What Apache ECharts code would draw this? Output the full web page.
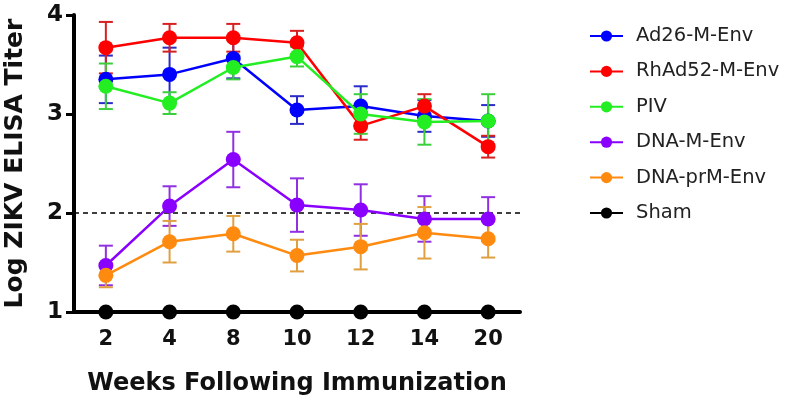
<!DOCTYPE html>
<html><head><meta charset="utf-8">
<script src="https://cdn.jsdelivr.net/npm/echarts@6/dist/echarts.min.js"></script>
<style>html,body{margin:0;padding:0;background:#fff}#c{width:800px;height:405px}</style>
</head><body><div id="c"></div>
<script>
const weeks = ['2','4','8','10','12','14','20'];
const seriesNames = ['Ad26-M-Env','RhAd52-M-Env','PIV','DNA-M-Env','DNA-prM-Env','Sham'];
const colors = ['#0000ff','#ff0000','#22ee22','#8a00ff','#ff8a10','#000000'];
const errColors = ['#2b2bc8','#d82020','#3ccf3c','#9030e0','#e0a040','#000000'];
const ad26 = [3.35, 3.40, 3.56, 3.04, 3.08, 2.98, 2.93];
const ad26Err = [0.24, 0.27, 0.20, 0.14, 0.20, 0.16, 0.16];
const rhad52 = [3.67, 3.77, 3.77, 3.72, 2.88, 3.08, 2.67];
const rhad52Err = [0.26, 0.14, 0.14, 0.12, 0.14, 0.12, 0.11];
const piv = [3.28, 3.11, 3.47, 3.58, 3.00, 2.92, 2.93];
const pivErr = [0.23, 0.11, 0.12, 0.10, 0.20, 0.23, 0.27];
const dnaM = [1.47, 2.07, 2.54, 2.08, 2.03, 1.94, 1.94];
const dnaMErr = [0.20, 0.20, 0.28, 0.27, 0.26, 0.23, 0.22];
const dnaPrM = [1.37, 1.71, 1.79, 1.57, 1.66, 1.80, 1.74];
const dnaPrMErr = [0.12, 0.21, 0.18, 0.16, 0.23, 0.26, 0.19];
const sham = [1, 1, 1, 1, 1, 1, 1];
const shamErr = [0, 0, 0, 0, 0, 0, 0];
const yTicks = [1, 2, 3, 4];
const threshold = 2;

const means = [ad26, rhad52, piv, dnaM, dnaPrM, sham];
const errs = [ad26Err, rhad52Err, pivErr, dnaMErr, dnaPrMErr, shamErr];

const chart = echarts.init(document.getElementById('c'));
const series = [];
means.forEach((m, si) => {
  if (si < 5) {
    series.push({
      type: 'custom',
      name: seriesNames[si] + ' err',
      z: 1,
      data: m.map((v, i) => [i, v - errs[si][i], v + errs[si][i]]),
      renderItem: function (params, api) {
        const lo = api.coord([api.value(0), api.value(1)]);
        const hi = api.coord([api.value(0), api.value(2)]);
        const w = 7;
        const st = { stroke: errColors[si], lineWidth: 2 };
        return { type: 'group', children: [
          { type: 'line', shape: { x1: lo[0], y1: lo[1], x2: hi[0], y2: hi[1] }, style: st },
          { type: 'line', shape: { x1: hi[0] - w, y1: hi[1], x2: hi[0] + w, y2: hi[1] }, style: st },
          { type: 'line', shape: { x1: lo[0] - w, y1: lo[1], x2: lo[0] + w, y2: lo[1] }, style: st }
        ]};
      },
      silent: true,
      clip: false
    });
  }
});
means.forEach((m, si) => {
  series.push({
    type: 'line',
    name: seriesNames[si],
    data: m,
    symbol: 'circle',
    symbolSize: 15,
    clip: false,
    z: 3 + si,
    lineStyle: { color: colors[si], width: 2.5 },
    itemStyle: { color: colors[si] },
    animation: false,
    markLine: si === 0 ? {
      silent: true, symbol: 'none', label: { show: false },
      lineStyle: { color: '#000', type: [5, 4], width: 1.5 },
      data: [{ yAxis: threshold }]
    } : undefined
  });
});

chart.setOption({
  animation: false,
  color: colors,
  grid: { left: 74, right: 280, top: 15, bottom: 93, outerBoundsMode: 'none', containLabel: false },
  legend: {
    data: seriesNames,
    orient: 'vertical',
    left: 584,
    top: 21,
    itemWidth: 33,
    itemHeight: 14,
    itemGap: 15.4,
    textStyle: { fontFamily: 'DejaVu Sans', fontSize: 19.5, color: '#222', padding: [0, 0, 0, 8] }
  },
  xAxis: {
    type: 'category',
    data: weeks,
    boundaryGap: true,
    name: 'Weeks Following Immunization',
    nameLocation: 'middle',
    nameGap: 60,
    nameTextStyle: { fontFamily: 'DejaVu Sans', fontWeight: 'bold', fontSize: 24, color: '#111' },
    axisLine: { lineStyle: { color: '#000', width: 4 } },
    axisTick: { show: false },
    axisLabel: { fontFamily: 'DejaVu Sans', fontWeight: 'bold', fontSize: 21, color: '#111', margin: 17 }
  },
  yAxis: {
    type: 'value',
    min: 1, max: 4, interval: 1,
    name: 'Log ZIKV ELISA Titer',
    nameLocation: 'middle',
    nameGap: 46,
    nameTextStyle: { fontFamily: 'DejaVu Sans', fontWeight: 'bold', fontSize: 25, color: '#111' },
    axisLine: { show: true, lineStyle: { color: '#000', width: 4 } },
    axisTick: { show: true, length: 8, lineStyle: { color: '#000', width: 3 } },
    axisLabel: { fontFamily: 'DejaVu Sans', fontWeight: 'bold', fontSize: 23, color: '#111', margin: 11,
      formatter: v => yTicks.includes(v) ? String(v) : '' },
    splitLine: { show: false }
  },
  series: series
});
</script></body></html>
